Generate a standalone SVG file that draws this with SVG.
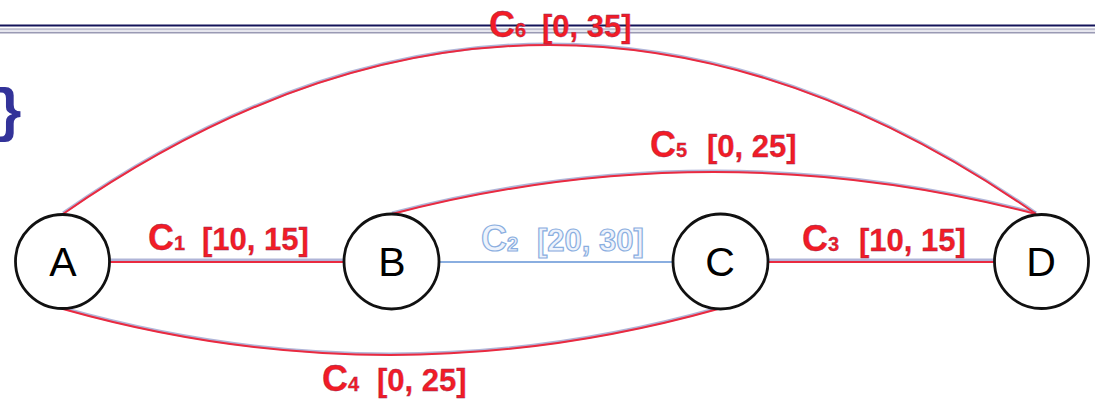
<svg xmlns="http://www.w3.org/2000/svg" width="1095" height="403" viewBox="0 0 1095 403">
<style>
.under{fill:none;stroke:#7078b8;stroke-width:3;opacity:.55}
.edge{fill:none;stroke:#ea2a40;stroke-width:2}
.edge2{fill:none;stroke:#8aaee0;stroke-width:2}
.node{fill:#ffffff;stroke:#111111;stroke-width:2.8}
.nl{font-family:"Liberation Sans",Arial,sans-serif;font-size:41px;fill:#000000;text-anchor:middle}
.lbl{font-family:"Liberation Sans",Arial,sans-serif;font-size:31px;font-weight:bold;fill:#f21c26;stroke:#8a2a5a;stroke-width:0.3}
.lbl2{font-family:"Liberation Sans",Arial,sans-serif;font-size:31px;font-weight:bold;fill:#eef3fc;stroke:#8aaee0;stroke-width:1.2}
.big{font-size:36px}
.sub{font-size:20px}
</style>
<rect x="0" y="0" width="1095" height="403" fill="#ffffff"/>
<g id="rules">
<rect x="0" y="24.5" width="1095" height="2" fill="#14145a"/>
<rect x="0" y="28.5" width="1095" height="5" fill="#9a9ab4"/>
<rect x="0" y="29.5" width="1095" height="2.5" fill="#e6e6ee"/>
</g>
<text x="-2" y="130" font-family="'Liberation Sans',Arial,sans-serif" font-size="60" font-weight="bold" fill="#333399">}</text>
<g id="connectors">
<path class="under" d="M110 261 H344" transform="translate(0,-1)"/>
<path class="edge" d="M110 262 H344"/>
<path class="edge2" d="M440 262 H673"/>
<path class="under" d="M768 261 H995" transform="translate(0,-1)"/>
<path class="edge" d="M768 262 H995"/>
<path class="under" d="M63 309 Q390 401 718 309" transform="translate(0,-1)"/>
<path class="edge" d="M63 309 Q390 401 718 309"/>
<path class="under" d="M392 214 Q713 130 1036 214" transform="translate(0,-1)"/>
<path class="edge" d="M392 214 Q713 130 1036 214"/>
<path class="under" d="M63 214 Q549 -124 1036 214" transform="translate(0,-1)"/>
<path class="edge" d="M63 214 Q549 -124 1036 214"/>
</g>
<g id="labels">
<text class="lbl" x="148" y="250"><tspan class="big">C</tspan><tspan class="sub">1</tspan><tspan x="202">[10, 15]</tspan></text>
<text class="lbl2" x="481" y="251"><tspan class="big">C</tspan><tspan class="sub">2</tspan><tspan x="537">[20, 30]</tspan></text>
<text class="lbl" x="802" y="251"><tspan class="big">C</tspan><tspan class="sub">3</tspan><tspan x="859">[10, 15]</tspan></text>
<text class="lbl" x="322" y="391"><tspan class="big">C</tspan><tspan class="sub">4</tspan><tspan x="377">[0, 25]</tspan></text>
<text class="lbl" x="650" y="157"><tspan class="big">C</tspan><tspan class="sub">5</tspan><tspan x="707">[0, 25]</tspan></text>
<text class="lbl" x="489" y="37"><tspan class="big">C</tspan><tspan class="sub">6</tspan><tspan x="542">[0, 35]</tspan></text>
</g>
<g id="A"><circle class="node" cx="62.5" cy="261.5" r="47"/><text class="nl" x="63" y="276">A</text></g>
<g id="B"><circle class="node" cx="391.5" cy="261.5" r="47.5"/><text class="nl" x="392" y="276">B</text></g>
<g id="C"><circle class="node" cx="720.5" cy="261.5" r="47.5"/><text class="nl" x="720" y="276">C</text></g>
<g id="D"><circle class="node" cx="1041.5" cy="261.5" r="47"/><text class="nl" x="1041" y="276">D</text></g>
</svg>
